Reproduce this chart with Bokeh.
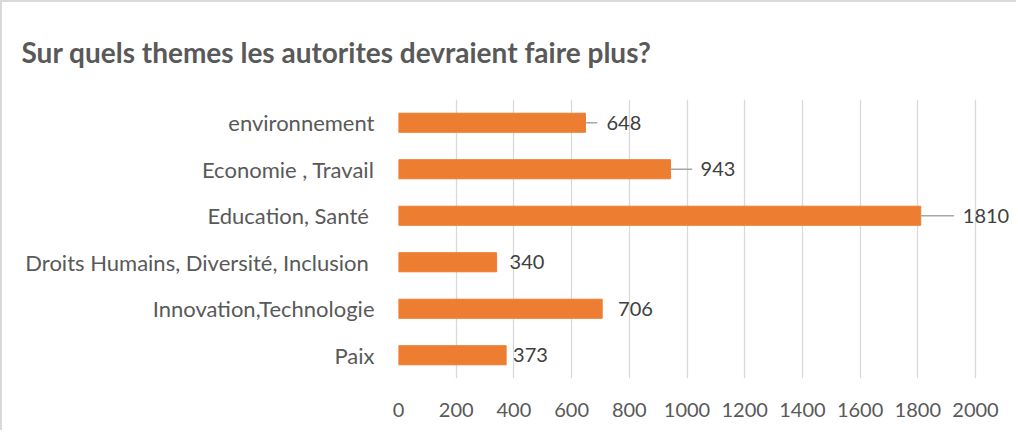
from bokeh.plotting import figure
from bokeh.models import ColumnDataSource, FixedTicker, Range1d
from bokeh.embed import file_html
from bokeh.resources import INLINE
from bokeh.core.properties import value

# ---- data ----
categories = ["Paix", "Innovation,Technologie", "Droits Humains, Diversité, Inclusion ",
              "Education, Santé ", "Economie , Travail", "environnement"]
counts = [373, 706, 340, 1810, 943, 648]
x_ticks = [0, 200, 400, 600, 800, 1000, 1200, 1400, 1600, 1800, 2000]
title_text = "Sur quels themes les autorites devraient faire plus?"

# ---- label placement (style, data units) ----
label_gap = [24, 55, 45, 146, 104, 73]
leader_len = [0, 0, 0, 115, 75, 41]

FONT = "Lato"
ORANGE = "#ED7D31"

src = ColumnDataSource(dict(
    cat=categories,
    val=counts,
    lx=[v + g for v, g in zip(counts, label_gap)],
    txt=[str(v) for v in counts],
))
lead = ColumnDataSource(dict(
    cat=[c for c, l in zip(categories, leader_len) if l > 0],
    x0=[v for v, l in zip(counts, leader_len) if l > 0],
    x1=[v + l for v, l in zip(counts, leader_len) if l > 0],
))

p = figure(width=1016, height=430, y_range=categories, x_range=Range1d(0, 2149),
           output_backend="svg", toolbar_location=None, title=title_text,
           min_border_left=396, min_border_right=0, min_border_bottom=54, min_border_top=96)
p.styles = {"border-top": "2px solid #D9D9D9", "border-left": "2px solid #D9D9D9"}

p.title.text_font = FONT
p.title.text_font_size = "28px"
p.title.text_font_style = "bold"
p.title.text_color = "#595959"
p.title.offset = -377
p.title.standoff = 61

p.hbar(y="cat", right="val", left=0, height=0.41, color=ORANGE, source=src)
p.segment(x0="x0", x1="x1", y0="cat", y1="cat", line_color="#A6A6A6", line_width=1.5, source=lead)
p.text(x="lx", y="cat", text="txt", source=src, text_align="left", text_baseline="middle",
       text_font=value(FONT), text_font_size="20px", text_color="#404040")

p.outline_line_color = None
p.ygrid.grid_line_color = None
p.xgrid.grid_line_color = "#D9D9D9"
p.xgrid.grid_line_width = 1.3
p.xaxis.ticker = FixedTicker(ticks=x_ticks)

for ax in (p.xaxis, p.yaxis):
    ax.axis_line_color = None
    ax.major_tick_line_color = None
    ax.minor_tick_line_color = None
    ax.major_label_text_font = FONT
    ax.major_label_text_color = "#595959"
p.xaxis.major_label_text_font_size = "20px"
p.yaxis.major_label_text_font_size = "22px"
p.xaxis.major_label_standoff = 18
p.yaxis.major_label_standoff = 18

open("out.html", "w").write(file_html(p, INLINE))
